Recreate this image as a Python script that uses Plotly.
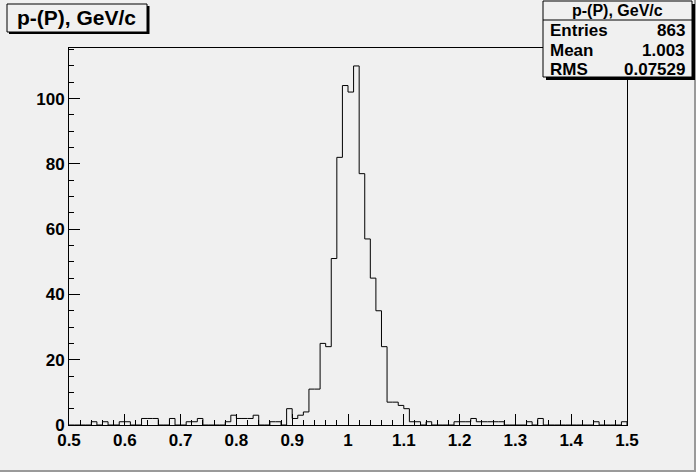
import plotly.graph_objects as go

# ---- data ----
bin_low = 0.5
bin_width = 0.01
counts = [
    0, 0, 0, 0, 1, 0, 1, 0, 0, 1,
    1, 0, 0, 2, 2, 2, 0, 0, 2, 0,
    0, 1, 1, 2, 0, 0, 0, 0, 1, 3,
    2, 2, 2, 3, 0, 0, 1, 1, 0, 5,
    2, 3, 4, 11, 11, 25, 24, 51, 82, 104,
    102, 110, 77, 57, 45, 35, 24, 7, 7, 6,
    5, 1, 1, 0, 1, 0, 0, 0, 0, 1,
    1, 1, 2, 1, 1, 1, 1, 1, 0, 0,
    0, 0, 1, 0, 2, 0, 0, 0, 0, 0,
    0, 0, 0, 0, 1, 0, 0, 0, 0, 1,
]
x_tick_vals = [0.5, 0.6, 0.7, 0.8, 0.9, 1.0, 1.1, 1.2, 1.3, 1.4, 1.5]
x_tick_text = ["0.5", "0.6", "0.7", "0.8", "0.9", "1", "1.1", "1.2", "1.3", "1.4", "1.5"]
y_tick_vals = [0, 20, 40, 60, 80, 100]
y_tick_text = ["0", "20", "40", "60", "80", "100"]
hist_title = "p-(P), GeV/c"
stats_labels = ["Entries", "Mean", "RMS"]
stats_values = ["863", "1.003", "0.07529"]

# ---- build step outline ----
n = len(counts)
edges = [bin_low + i * bin_width for i in range(n + 1)]
xs = [edges[0]] + edges[:-1] + [edges[-1], edges[-1]]
ys = [0] + counts + [counts[-1], 0]

W, H = 696, 472
ML, MR, MT, MB = 69, 69, 48, 47
PW, PH = W - ML - MR, H - MT - MB
BG = "#f0f0f0"
FONT = "Liberation Sans, Arial, Helvetica, sans-serif"


def px(x):
    return (x - ML) / PW


def py(y):
    return (H - MB - y) / PH


fig = go.Figure()
fig.add_trace(go.Scatter(
    x=xs, y=ys, mode="lines", line=dict(shape="hv", color="black", width=1),
    hoverinfo="skip", showlegend=False,
))

shapes = []
annotations = []

# canvas border (3D bevel: dark bottom/right)
shapes.append(dict(type="rect", xref="paper", yref="paper",
                   x0=px(0), x1=px(W), y0=py(H - 2), y1=py(H),
                   fillcolor="#9a9a9a", line=dict(width=0), layer="above"))
shapes.append(dict(type="rect", xref="paper", yref="paper",
                   x0=px(W - 2), x1=px(W), y0=py(H), y1=py(0),
                   fillcolor="#9a9a9a", line=dict(width=0), layer="above"))

# title box with shadow
shapes.append(dict(type="rect", xref="paper", yref="paper",
                   x0=px(9), x1=px(149.5), y0=py(34), y1=py(6),
                   fillcolor="black", line=dict(width=0), layer="above"))
shapes.append(dict(type="rect", xref="paper", yref="paper",
                   x0=px(7), x1=px(147), y0=py(32), y1=py(4),
                   fillcolor=BG, line=dict(color="black", width=1), layer="above"))
annotations.append(dict(xref="paper", yref="paper", x=px(76), y=py(18),
                        text="<b>" + hist_title + "</b>", showarrow=False,
                        xanchor="center", yanchor="middle",
                        font=dict(family=FONT, size=21, color="black")))

# stats box with shadow
SX0, SX1, SY0, SY1 = 543, 692, 1, 77
shapes.append(dict(type="rect", xref="paper", yref="paper",
                   x0=px(SX0 + 3), x1=px(SX1 + 3), y0=py(SY1 + 3), y1=py(SY0 + 3),
                   fillcolor="black", line=dict(width=0), layer="above"))
shapes.append(dict(type="rect", xref="paper", yref="paper",
                   x0=px(SX0), x1=px(SX1), y0=py(SY1), y1=py(SY0),
                   fillcolor=BG, line=dict(color="black", width=1), layer="above"))
shapes.append(dict(type="line", xref="paper", yref="paper",
                   x0=px(SX0), x1=px(SX1), y0=py(20), y1=py(20),
                   line=dict(color="black", width=1), layer="above"))
annotations.append(dict(xref="paper", yref="paper", x=px((SX0 + SX1) / 2), y=py(10.5),
                        text="<b>" + hist_title + "</b>", showarrow=False,
                        xanchor="center", yanchor="middle",
                        font=dict(family=FONT, size=16, color="black")))
row_y = [31, 50.5, 70]
for lab, val, ry in zip(stats_labels, stats_values, row_y):
    annotations.append(dict(xref="paper", yref="paper", x=px(548), y=py(ry),
                            text="<b>" + lab + "</b>", showarrow=False,
                            xanchor="left", yanchor="middle",
                            font=dict(family=FONT, size=17, color="black")))
    annotations.append(dict(xref="paper", yref="paper", x=px(687), y=py(ry),
                            text="<b>" + val + "</b>", showarrow=False,
                            xanchor="right", yanchor="middle",
                            font=dict(family=FONT, size=17, color="black")))

tickfont = dict(family=FONT, size=17, color="black", weight="bold")

fig.update_layout(
    width=W, height=H,
    margin=dict(l=ML, r=MR, t=MT, b=MB, pad=0),
    paper_bgcolor=BG, plot_bgcolor=BG,
    showlegend=False,
    shapes=shapes, annotations=annotations,
    xaxis=dict(
        range=[edges[0], edges[-1]], tickmode="array",
        tickvals=x_tick_vals, ticktext=x_tick_text,
        ticks="inside", ticklen=11, tickwidth=1, tickcolor="black",
        minor=dict(dtick=0.02, tick0=0.5, ticks="inside", ticklen=5,
                   tickwidth=1, tickcolor="black", showgrid=False),
        showline=True, linecolor="black", linewidth=1, mirror=True,
        showgrid=False, zeroline=False, tickfont=tickfont,
    ),
    yaxis=dict(
        range=[0, 115.5], tickmode="array",
        tickvals=y_tick_vals, ticktext=y_tick_text,
        ticks="inside", ticklen=11, tickwidth=1, tickcolor="black",
        minor=dict(dtick=5, tick0=0, ticks="inside", ticklen=5,
                   tickwidth=1, tickcolor="black", showgrid=False),
        showline=True, linecolor="black", linewidth=1, mirror=True,
        showgrid=False, zeroline=False, tickfont=tickfont,
    ),
)

fig.write_html(
    "out.html",
    config={"displayModeBar": False},
    post_script="document.body.style.margin='0';document.body.style.background='#f0f0f0';",
)
